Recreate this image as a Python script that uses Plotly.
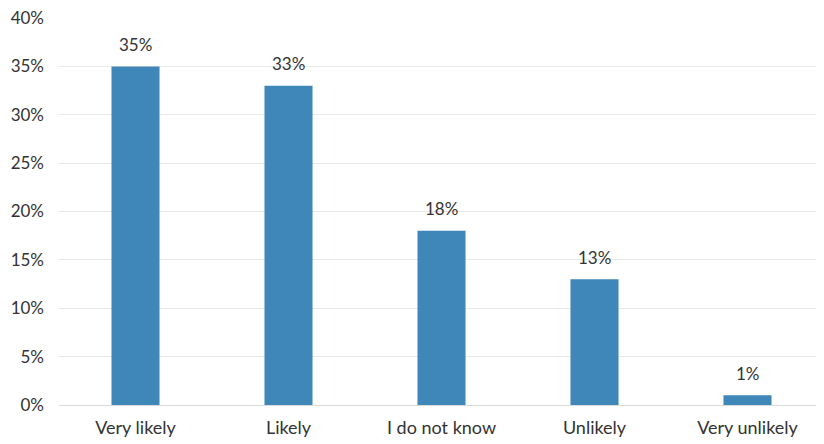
import plotly.graph_objects as go

categories = ["Very likely", "Likely", "I do not know", "Unlikely", "Very unlikely"]
values = [35, 33, 18, 13, 1]
tick_vals = [0, 5, 10, 15, 20, 25, 30, 35, 40]
tick_text = [f"{v}%" for v in tick_vals]
labels = [f"{v}%" for v in values]

font_family = "Lato, Open Sans, sans-serif"
text_color = "#333333"
fsize = 17

fig = go.Figure()
fig.add_trace(go.Bar(
    x=categories, y=values,
    marker=dict(color="#3f86b9", line=dict(width=0)),
    hoverinfo="skip",
))
for c, v, t in zip(categories, values, labels):
    fig.add_annotation(x=c, y=v, text=t, showarrow=False, yanchor="middle",
                       yshift=22, font=dict(family=font_family, size=fsize, color=text_color))

fig.update_layout(
    width=816, height=436,
    margin=dict(l=51, r=0, t=10, b=39),
    paper_bgcolor="white", plot_bgcolor="white",
    bargap=0.686,
    showlegend=False,
    font=dict(family=font_family, size=fsize, color=text_color),
    xaxis=dict(showgrid=False, showline=True, linecolor="#d9d9d9", linewidth=1,
               ticks="", ticklabelstandoff=6, tickfont=dict(size=18, color=text_color)),
    yaxis=dict(range=[0, 40], tickvals=tick_vals, ticktext=tick_text,
               showgrid=True, gridcolor="#e8e8e8", gridwidth=1,
               zeroline=False, showline=False, ticks="", ticklabelstandoff=14,
               ticklabeloverflow="allow",
               tickfont=dict(size=fsize, color=text_color)),
)
fig.write_html("out.html")
